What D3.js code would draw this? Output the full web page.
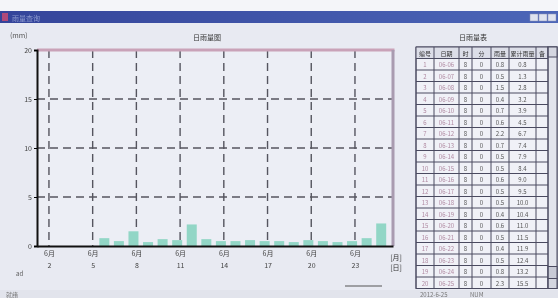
<!DOCTYPE html>
<html>
<head>
<meta charset="utf-8">
<script src="https://cdn.jsdelivr.net/npm/d3@7/dist/d3.min.js"></script>
<style>
  body { margin: 0; background: #f4f5f9; }
  svg { display: block; filter: blur(0.35px); }
  text { font-family: "Noto Sans CJK SC", "DejaVu Sans", sans-serif; }
</style>
</head>
<body>
<svg id="chart" width="558" height="298"></svg>
<script>
// daily rainfall, June, days 6..25 (mm)
var days = [6, 7, 8, 9, 10, 11, 12, 13, 14, 15, 16, 17, 18, 19, 20, 21, 22, 23, 24, 25];
var rain = [0.8, 0.5, 1.5, 0.4, 0.7, 0.6, 2.2, 0.7, 0.5, 0.5, 0.6, 0.5, 0.5, 0.4, 0.6, 0.5, 0.4, 0.5, 0.8, 2.3];
var yTicks = [0, 5, 10, 15, 20];
var xTicks = [2, 5, 8, 11, 14, 17, 20, 23];
var monthLabel = "6月";
var tableHeaders = ["编号", "日期", "时", "分", "雨量", "累计雨量", "备"];

var svg = d3.select("#chart");

// window frame + title bar
var defs = svg.append("defs");
var grad = defs.append("linearGradient").attr("id", "tb");
grad.append("stop").attr("offset", "0%").attr("stop-color", "#34449a");
grad.append("stop").attr("offset", "100%").attr("stop-color", "#4c66b8");

svg.append("rect").attr("x", 0).attr("y", 11).attr("width", 558).attr("height", 287).attr("fill", "#e8eaf2");
svg.append("rect").attr("x", 0).attr("y", 11).attr("width", 558).attr("height", 12).attr("fill", "url(#tb)");
svg.append("rect").attr("x", 2).attr("y", 13).attr("width", 6).attr("height", 8).attr("fill", "#b04a7a");
svg.append("text").attr("x", 12).attr("y", 20.5).attr("font-size", 7).attr("fill", "#8e9ad0").text("雨量查询");
[530, 539, 548].forEach(function (bx) {
    svg.append("rect").attr("x", bx).attr("y", 14).attr("width", 8).attr("height", 7)
        .attr("fill", "#dfe3ef").attr("stroke", "#8a92b8").attr("stroke-width", 0.5);
});

// ---- chart ----
var margin = {top: 50, right: 165, bottom: 52, left: 37};
var plotW = 558 - margin.left - margin.right,
    plotH = 298 - margin.top - margin.bottom;

var x = d3.scaleLinear().domain([1.18, 25.61]).range([margin.left, margin.left + plotW]);
var y = d3.scaleLinear().domain([0, 20]).range([margin.top + plotH, margin.top]);

svg.append("rect").attr("x", margin.left).attr("y", margin.top).attr("width", plotW).attr("height", plotH).attr("fill", "#eceef5");

// dashed grid
svg.append("g").selectAll("line").data(yTicks.filter(function (d) { return d > 0 && d < 20; }))
    .enter().append("line")
    .attr("x1", margin.left).attr("x2", margin.left + plotW)
    .attr("y1", function (d) { return y(d); }).attr("y2", function (d) { return y(d); })
    .attr("stroke", "#55555f").attr("stroke-width", 1.4).attr("stroke-dasharray", "8,5");

svg.append("g").selectAll("line").data(xTicks)
    .enter().append("line")
    .attr("x1", function (d) { return x(d); }).attr("x2", function (d) { return x(d); })
    .attr("y1", y(20)).attr("y2", y(0))
    .attr("stroke", "#55555f").attr("stroke-width", 1.4).attr("stroke-dasharray", "8,5");

// bars
svg.append("g").selectAll("rect").data(days)
    .enter().append("rect")
    .attr("x", function (d) { return x(d - 0.2) - 5; })
    .attr("y", function (d, i) { return y(rain[i]); })
    .attr("width", 10)
    .attr("height", function (d, i) { return y(0) - y(rain[i]); })
    .attr("fill", "#92d6c6");

// top + right border
svg.append("line").attr("x1", margin.left).attr("x2", margin.left + plotW + 1.5)
    .attr("y1", y(20)).attr("y2", y(20)).attr("stroke", "#c9a2b8").attr("stroke-width", 3);
svg.append("line").attr("x1", margin.left + plotW).attr("x2", margin.left + plotW)
    .attr("y1", y(20)).attr("y2", y(0)).attr("stroke", "#a99bb0").attr("stroke-width", 3);

// y axis
var yAxis = svg.append("g").attr("transform", "translate(" + margin.left + ",0)")
    .call(d3.axisLeft(y).tickValues(yTicks).tickSize(3).tickPadding(2));
yAxis.select(".domain").attr("stroke", "#111").attr("stroke-width", 2);
yAxis.selectAll("text").attr("font-size", 7).attr("fill", "#444");

// x axis
var xAxis = svg.append("g").attr("transform", "translate(0," + y(0) + ")")
    .call(d3.axisBottom(x).tickValues(xTicks).tickSize(0).tickFormat(function () { return monthLabel; }).tickPadding(5));
xAxis.select(".domain").attr("stroke", "#111").attr("stroke-width", 2);
xAxis.selectAll("text").attr("font-size", 7).attr("fill", "#444");
xAxis.selectAll(".tick").append("text")
    .attr("y", 22).attr("font-size", 7).attr("fill", "#444").attr("text-anchor", "middle")
    .text(function (d) { return d; });

svg.append("text").attr("x", 396).attr("y", 260).attr("font-size", 7).attr("fill", "#333").attr("text-anchor", "middle").text("[月]");
svg.append("text").attr("x", 396).attr("y", 270).attr("font-size", 7).attr("fill", "#333").attr("text-anchor", "middle").text("[日]");

svg.append("text").attr("x", 10).attr("y", 38).attr("font-size", 7).attr("fill", "#555").text("(mm)");
svg.append("text").attr("x", 207).attr("y", 40).attr("font-size", 7).attr("fill", "#333").attr("text-anchor", "middle").text("日雨量图");
svg.append("text").attr("x", 16).attr("y", 276).attr("font-size", 6).attr("fill", "#555").text("ad");
svg.append("line").attr("x1", 345).attr("x2", 382).attr("y1", 286).attr("y2", 286).attr("stroke", "#555").attr("stroke-width", 1);

// ---- table ----
svg.append("text").attr("x", 473).attr("y", 40).attr("font-size", 7).attr("fill", "#333").attr("text-anchor", "middle").text("日雨量表");

var colEdges = [416, 434, 459, 472, 491, 509, 536, 548];
var rowH = 11.5, tTop = 47;
var cum = 0;
var rows = days.map(function (d, i) {
    cum += rain[i];
    return [String(i + 1), "06-" + (d < 10 ? "0" + d : d), "8", "0", rain[i].toFixed(1), cum.toFixed(1), ""];
});
var tBottom = tTop + rowH * (rows.length + 1);

svg.append("rect").attr("x", colEdges[0]).attr("y", tTop).attr("width", 141).attr("height", tBottom - tTop)
    .attr("fill", "#f0f1f7").attr("stroke", "#4a4a60").attr("stroke-width", 1);
svg.append("rect").attr("x", colEdges[0]).attr("y", tTop).attr("width", colEdges[7] - colEdges[0]).attr("height", rowH)
    .attr("fill", "#dcdee8");
// scrollbar
svg.append("rect").attr("x", 548).attr("y", tTop).attr("width", 9).attr("height", tBottom - tTop).attr("fill", "#e2e4ec").attr("stroke", "#4a4a60");
svg.append("rect").attr("x", 548).attr("y", tTop).attr("width", 9).attr("height", 10).attr("fill", "#d4d6e0").attr("stroke", "#4a4a60");
svg.append("rect").attr("x", 548).attr("y", tBottom - 22).attr("width", 9).attr("height", 12).attr("fill", "#c8cad6").attr("stroke", "#4a4a60");
svg.append("rect").attr("x", 548).attr("y", tBottom - 10).attr("width", 9).attr("height", 10).attr("fill", "#d4d6e0").attr("stroke", "#4a4a60");

svg.append("g").selectAll("line").data(colEdges)
    .enter().append("line")
    .attr("x1", function (d) { return d; }).attr("x2", function (d) { return d; })
    .attr("y1", tTop).attr("y2", tBottom).attr("stroke", "#4a4a60").attr("stroke-width", 1);
svg.append("g").selectAll("line").data(d3.range(rows.length + 2))
    .enter().append("line")
    .attr("x1", colEdges[0]).attr("x2", colEdges[7])
    .attr("y1", function (i) { return tTop + i * rowH; }).attr("y2", function (i) { return tTop + i * rowH; })
    .attr("stroke", "#4a4a60").attr("stroke-width", 1);

svg.append("g").selectAll("text").data(tableHeaders)
    .enter().append("text")
    .attr("x", function (d, i) { return (colEdges[i] + colEdges[i + 1]) / 2; })
    .attr("y", tTop + 8.5).attr("font-size", 6).attr("text-anchor", "middle").attr("fill", "#333")
    .text(function (d) { return d; });

var rowG = svg.append("g").selectAll("g").data(rows).enter().append("g")
    .attr("transform", function (r, i) { return "translate(0," + (tTop + (i + 1) * rowH) + ")"; });
rowG.selectAll("text").data(function (r) { return r; })
    .enter().append("text")
    .attr("x", function (d, i) { return (colEdges[i] + colEdges[i + 1]) / 2; })
    .attr("y", 8.5).attr("font-size", 6).attr("text-anchor", "middle")
    .attr("fill", function (d, i) { return i < 2 ? "#b08aa2" : "#555"; })
    .text(function (d) { return d; });

// status bar
svg.append("rect").attr("x", 0).attr("y", 290).attr("width", 558).attr("height", 8).attr("fill", "#e2e4ec");
svg.append("text").attr("x", 6).attr("y", 297).attr("font-size", 6).attr("fill", "#777").text("就绪");
svg.append("text").attr("x", 420).attr("y", 297).attr("font-size", 6).attr("fill", "#777").text("2012-6-25");
svg.append("text").attr("x", 470).attr("y", 297).attr("font-size", 6).attr("fill", "#777").text("NUM");
</script>
</body>
</html>
